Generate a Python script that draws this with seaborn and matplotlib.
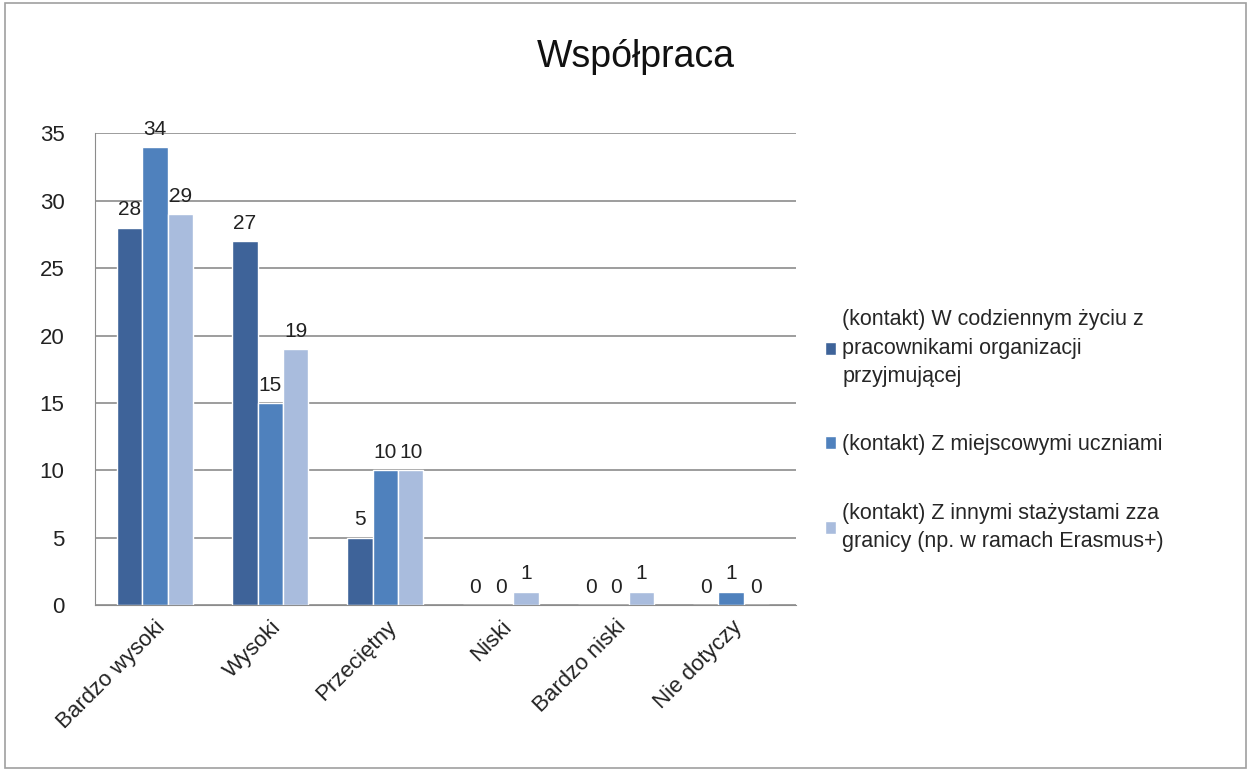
import pandas as pd
import matplotlib.pyplot as plt
import seaborn as sns
from matplotlib.patches import Rectangle

categories = ["Bardzo wysoki", "Wysoki", "Przeciętny", "Niski", "Bardzo niski", "Nie dotyczy"]
series_names = [
    "(kontakt) W codziennym życiu z\npracownikami organizacji\nprzyjmującej",
    "(kontakt) Z miejscowymi uczniami",
    "(kontakt) Z innymi stażystami zza\ngranicy (np. w ramach Erasmus+)",
]
s1 = [28, 27, 5, 0, 0, 0]
s2 = [34, 15, 10, 0, 0, 1]
s3 = [29, 19, 10, 1, 1, 0]
colors = ["#3E6399", "#4F81BD", "#A9BCDD"]

df = pd.DataFrame({
    "kategoria": categories * 3,
    "seria": [series_names[0]] * 6 + [series_names[1]] * 6 + [series_names[2]] * 6,
    "wartosc": s1 + s2 + s3,
})

sns.set_style("white")
plt.rcParams["font.family"] = ["Liberation Sans", "DejaVu Sans"]

fig = plt.figure(figsize=(12.51, 7.71), dpi=100)
ax = fig.add_axes([0.076, 0.215, 0.56, 0.612])

sns.barplot(data=df, x="kategoria", y="wartosc", hue="seria", palette=colors,
            saturation=1, width=0.66, ax=ax, edgecolor="white", linewidth=1.0)

for cont in ax.containers:
    ax.bar_label(cont, padding=6, fontsize=15, color="#222222")

ax.set_ylim(0, 35)
ax.set_yticks(range(0, 36, 5))
ax.set_xlim(-0.52, 5.56)
ax.yaxis.grid(True, color="#8c8c8c", linewidth=1.2)
ax.set_axisbelow(True)
for side in ["top", "right"]:
    ax.spines[side].set_visible(False)
ax.spines["left"].set_color("#8c8c8c")
ax.spines["bottom"].set_color("#8c8c8c")
ax.set_xlabel("")
ax.set_ylabel("")
ax.tick_params(axis="y", labelsize=16, colors="#222222", length=0, pad=22)
ax.tick_params(axis="x", labelsize=16, colors="#222222", length=0, pad=8)
plt.setp(ax.get_xticklabels(), rotation=45, ha="right", rotation_mode="anchor")

leg = ax.legend(loc="center left", bbox_to_anchor=(1.03, 0.37), frameon=False,
                fontsize=15.5, handlelength=0.5, handleheight=0.5, handletextpad=0.3,
                labelspacing=2.2, borderaxespad=0)
for t in leg.get_texts():
    t.set_linespacing(1.45)

fig.suptitle("Współpraca", x=0.508, y=0.95, fontsize=27, color="#111111")

fig.patches.append(Rectangle((0.004, 0.004), 0.992, 0.992, transform=fig.transFigure,
                             fill=False, edgecolor="#a0a0a0", linewidth=1.2))

fig.savefig("out.png", dpi=100)
